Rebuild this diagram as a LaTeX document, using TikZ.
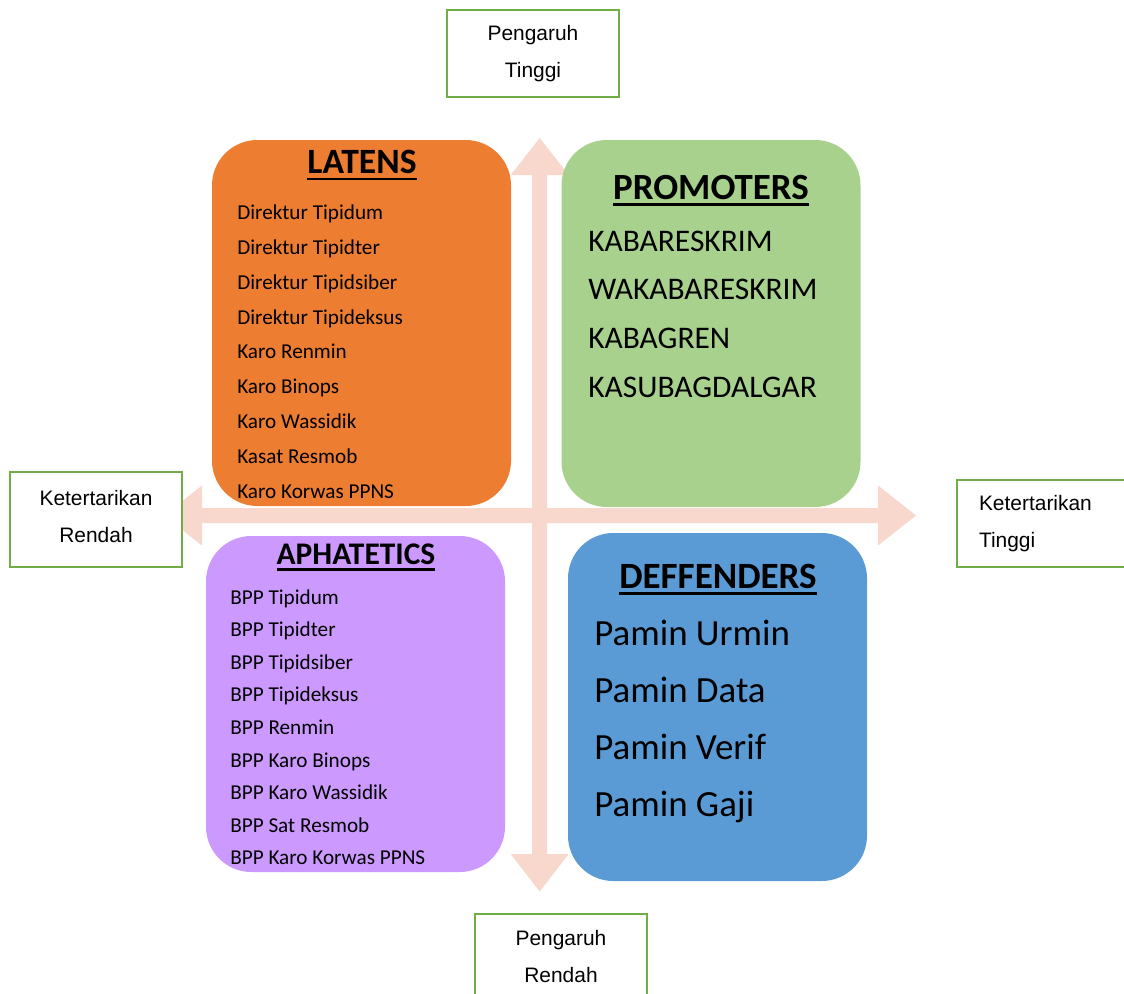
\documentclass[tikz,border=0pt]{standalone}
\usepackage{fontspec}
\setmainfont{Carlito}
\newfontfamily\tagfont{Liberation Sans}
\definecolor{latens}{HTML}{ED7D31}
\definecolor{promoters}{HTML}{A9D18E}
\definecolor{aphatetics}{HTML}{CC99FF}
\definecolor{deffenders}{HTML}{5B9BD5}
\definecolor{axis}{RGB}{248,215,204}
\definecolor{tagline}{HTML}{70AD47}
\newcommand\titleline[1]{\sbox0{#1}\rlap{\usebox0}\rule[-5pt]{\wd0}{1.8pt}}

\begin{document}
\begin{tikzpicture}[x=0.75pt, y=-0.75pt, every node/.style={inner sep=0pt},
	quad/.style={rounded corners=34pt, minimum width=224.25pt},
	qtitle/.style={anchor=base, font=\bfseries\fontsize{#1}{#1}\selectfont},
	entry/.style={anchor=base west, font=\fontsize{#1}{#1}\selectfont},
	tagbox/.style={draw=tagline, line width=1.65pt, fill=white, minimum width=129pt, minimum height=65pt,
		font=\tagfont\fontsize{15.7}{27.75}\selectfont}]
	\useasboundingbox (0,0) rectangle (1124,993);
	\clip (0,0) rectangle (1124,993);
	% axes
	\fill[axis] (532.2,175) -- (510.7,175) -- (539.7,138) -- (568.7,175) -- (547.2,175) -- (547.2,854) -- (568.7,854)
		-- (539.7,891.5) -- (510.7,854) -- (532.2,854) -- cycle;
	\fill[axis] (202,508) -- (202,485.5) -- (164,515.5) -- (202,545.5) -- (202,523) -- (878,523) -- (878,545.5)
		-- (916,515.5) -- (878,485.5) -- (878,508) -- cycle;
	% quadrants
	\node[quad, fill=latens, minimum height=274.5pt] (latens) at (361.5,323) {};
	\node[quad, fill=promoters, minimum height=275.25pt] (promoters) at (711,323.5) {};
	\node[quad, fill=aphatetics, minimum height=252pt] (aphatetics) at (355.5,704) {};
	\node[quad, fill=deffenders, minimum height=261pt] (deffenders) at (717.5,707) {};
	\node[qtitle=26.7] (latT) at (362,173.5) {\titleline{LATENS}};
	\node[qtitle=27.7] (proT) at (711,199) {\titleline{PROMOTERS}};
	\node[qtitle=23.6] (aphT) at (356,564) {\titleline{APHATETICS}};
	\node[qtitle=27.8] (defT) at (718,588) {\titleline{DEFFENDERS}};
	\foreach \t [count=\i] in {Direktur Tipidum, Direktur Tipidter, Direktur Tipidsiber, Direktur Tipideksus,
		Karo Renmin, Karo Binops, Karo Wassidik, Kasat Resmob, Karo Korwas PPNS}
		\node[entry=15.9] (lat\i) at (237,{219.3+34.9*(\i-1)}) {\t};
	\foreach \t [count=\i] in {KABARESKRIM, WAKABARESKRIM, KABAGREN, KASUBAGDALGAR}
		\node[entry=23.6] (pro\i) at (588,{251+48.7*(\i-1)}) {\t};
	\foreach \t [count=\i] in {BPP Tipidum, BPP Tipidter, BPP Tipidsiber, BPP Tipideksus, BPP Renmin,
		BPP Karo Binops, BPP Karo Wassidik, BPP Sat Resmob, BPP Karo Korwas PPNS}
		\node[entry=15.9] (aph\i) at (230,{604+32.6*(\i-1)}) {\t};
	\foreach \t [count=\i] in {Pamin Urmin, Pamin Data, Pamin Verif, Pamin Gaji}
		\node[entry=27.7] (def\i) at (594,{645+57*(\i-1)}) {\t};
	% axis labels
	\node[tagbox, align=center] (high) at (533,53.5) {Pengaruh\\Tinggi};
	\node[tagbox, align=center] (low) at (561,957) {Pengaruh\\Rendah};
	\node[tagbox, align=center, minimum height=71.25pt, text depth=5pt] (left) at (96,519.5) {Ketertarikan\\Rendah};
	\node[tagbox, align=left, text width=96pt] (right) at (1043,523.5) {Ketertarikan\\Tinggi};
\end{tikzpicture}
\end{document}
